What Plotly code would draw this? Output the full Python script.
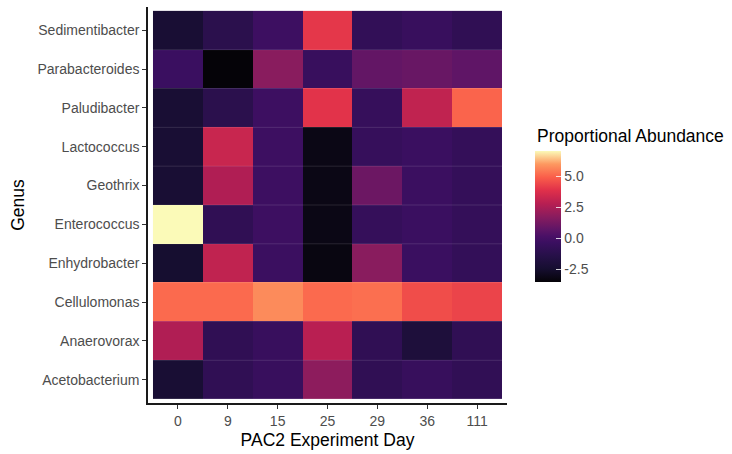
import plotly.graph_objects as go

days = ["0", "9", "15", "25", "29", "36", "111"]
genera_top_to_bottom = ["Sedimentibacter", "Parabacteroides", "Paludibacter", "Lactococcus",
                        "Geothrix", "Enterococcus", "Enhydrobacter", "Cellulomonas",
                        "Anaerovorax", "Acetobacterium"]

sedimentibacter = [-2.3, -1.2, -0.3, 4.0, -0.8, -0.5, -0.9]
parabacteroides = [-0.4, -3.55, 1.7, -0.5, 0.8, 0.9, 0.7]
paludibacter = [-2.3, -1.2, -0.3, 3.9, -0.6, 3.0, 5.0]
lactococcus = [-2.3, 3.2, -0.3, -3.2, -0.6, -0.4, -0.7]
geothrix = [-2.3, 2.6, -0.3, -3.2, 1.0, -0.35, -0.7]
enterococcus = [7.0, -0.9, -0.3, -3.2, -0.65, -0.4, -0.7]
enhydrobacter = [-2.5, 3.0, -0.35, -3.3, 1.7, -0.4, -0.75]
cellulomonas = [5.1, 5.1, 5.7, 5.1, 5.2, 4.5, 4.3]
anaerovorax = [2.6, -0.9, -0.5, 2.8, -0.9, -2.0, -0.9]
acetobacterium = [-2.3, -0.9, -0.5, 1.8, -0.9, -0.55, -0.85]

rows_top_to_bottom = [sedimentibacter, parabacteroides, paludibacter, lactococcus, geothrix,
                      enterococcus, enhydrobacter, cellulomonas, anaerovorax, acetobacterium]

colorbar_ticks = [-2.5, 0.0, 2.5, 5.0]
colorbar_ticktext = ["-2.5", "0.0", "2.5", "5.0"]

genera = genera_top_to_bottom[::-1]
z = rows_top_to_bottom[::-1]

magma_like = [
    [0.0, "#050308"], [0.1, "#160e30"], [0.2, "#261048"], [0.3, "#3a0f60"],
    [0.35, "#4a1066"], [0.4, "#5e1566"], [0.5, "#8a1c5e"], [0.6, "#b81f52"],
    [0.7, "#e0304a"], [0.8, "#fa5e4a"], [0.9, "#fd9860"], [1.0, "#fbfab8"],
]

FONT = "Liberation Sans, Arial, Helvetica, sans-serif"

fig = go.Figure()
fig.add_trace(go.Heatmap(
    x=days, y=genera, z=z,
    colorscale=magma_like,
    colorbar=dict(
        x=1.078, xanchor="left", xpad=0, ypad=0,
        y=0.47, yanchor="middle",
        len=131, lenmode="pixels",
        thickness=26, thicknessmode="pixels",
        outlinewidth=0,
        tickvals=colorbar_ticks, ticktext=colorbar_ticktext,
        ticks="inside", ticklen=5, tickcolor="rgba(255,255,255,0.8)", tickwidth=1,
        tickfont=dict(family=FONT, size=14, color="#4d4d4d"),
    ),
))

shapes = []
for i in range(len(genera) - 1):
    shapes.append(dict(type="line", xref="x", yref="y",
                       x0=-0.5, x1=len(days) - 0.5, y0=i + 0.5, y1=i + 0.5,
                       line=dict(color="rgba(255,255,255,0.12)", width=1)))

fig.update_layout(
    width=732, height=454,
    margin=dict(l=148, r=225, t=7, b=48),
    paper_bgcolor="white", plot_bgcolor="white",
    font=dict(family=FONT),
    shapes=shapes,
    annotations=[dict(text="Proportional Abundance", xref="paper", yref="paper",
                      x=1.078, y=0.674, xanchor="left", yanchor="middle", showarrow=False,
                      font=dict(family=FONT, size=17.5, color="black"))],
    xaxis=dict(type="category", range=[-0.6, len(days) - 0.4],
               showline=True, linecolor="#1a1a1a", linewidth=1.5,
               ticks="outside", ticklen=4, tickcolor="#333333", tickwidth=1,
               tickfont=dict(family=FONT, size=14, color="#4d4d4d"),
               showgrid=False, zeroline=False,
               title=dict(text="PAC2 Experiment Day", font=dict(family=FONT, size=17.5, color="black"),
                          standoff=6)),
    yaxis=dict(type="category", range=[-0.6, len(genera) - 0.4],
               showline=True, linecolor="#1a1a1a", linewidth=1.5,
               ticks="outside", ticklen=4, tickcolor="#333333", tickwidth=1,
               tickfont=dict(family=FONT, size=14, color="#4d4d4d"),
               showgrid=False, zeroline=False,
               title=dict(text="Genus", font=dict(family=FONT, size=17.5, color="black"),
                          standoff=8)),
)

fig.write_html("out.html")
